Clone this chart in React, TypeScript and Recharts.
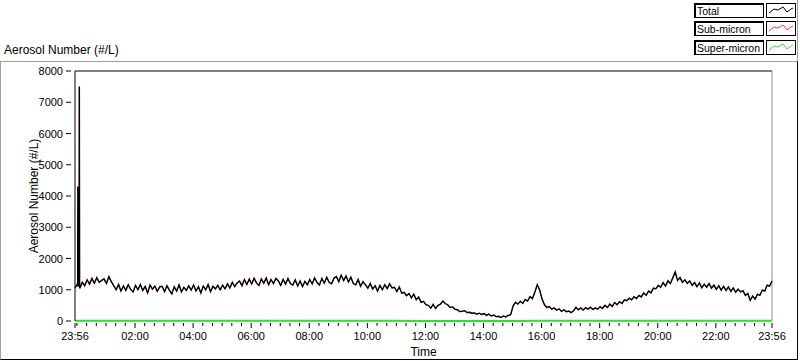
import React from "react";
import { LineChart, Line, XAxis, YAxis, ReferenceLine } from "recharts";

// minutes since 23:56, one value every 5 min, one row per hour
const TOTAL_BY_HOUR: number[][] = [
  [1060, 1190, 1050, 1240, 1130, 1320, 1180, 1360, 1210, 1390, 1240, 1300],
  [1350, 1200, 1420, 1260, 1130, 1000, 1170, 960, 1120, 980, 1160, 1010],
  [930, 1140, 1000, 1170, 980, 1110, 900, 1150, 1020, 1120, 950, 1090],
  [1110, 940, 1130, 990, 870, 1100, 960, 1160, 930, 1080, 980, 1120],
  [990, 1150, 960, 1100, 900, 1120, 1000, 1170, 940, 1110, 1030, 1140],
  [1000, 1150, 1030, 1190, 1060, 1240, 1100, 1220, 1280, 1130, 1330, 1170],
  [1340, 1190, 1370, 1220, 1140, 1350, 1210, 1380, 1160, 1330, 1200, 1360],
  [1290, 1140, 1330, 1180, 1360, 1200, 1150, 1320, 1120, 1280, 1100, 1270],
  [1160, 1330, 1190, 1380, 1230, 1150, 1360, 1210, 1400, 1240, 1190, 1370],
  [1420, 1260, 1470, 1290, 1440, 1250, 1400, 1200, 1160, 1330, 1110, 1260],
  [1160, 1050, 1200, 1020, 1130, 960, 1140, 1000, 1160, 1040, 1190, 1060],
  [1080, 940, 1090, 890, 920, 810, 880, 740, 860, 680, 770, 600],
  [630, 520, 500, 410, 530, 400, 500, 540, 640, 560, 520, 430],
  [450, 380, 360, 300, 310, 330, 270, 280, 250, 260, 220, 250],
  [210, 240, 180, 220, 160, 190, 140, 150, 110, 160, 130, 180],
  [200, 480, 600, 540, 630, 560, 690, 640, 780, 720, 920, 1160],
  [990, 700, 520, 430, 460, 380, 420, 350, 390, 310, 360, 300],
  [320, 270, 330, 440, 360, 420, 350, 430, 380, 440, 370, 420],
  [380, 460, 400, 500, 430, 540, 470, 590, 520, 620, 560, 680],
  [650, 730, 680, 780, 720, 820, 770, 900, 820, 960, 900, 1050],
  [1030, 1140, 1080, 1230, 1120, 1290, 1200, 1380, 1570, 1300, 1390, 1240],
  [1320, 1200, 1280, 1140, 1230, 1100, 1220, 1060, 1180, 1080, 1200, 1050],
  [1150, 1010, 1130, 990, 1110, 980, 1090, 950, 1060, 920, 1020, 930],
  [970, 820, 880, 660, 800, 700, 860, 820, 990, 960, 1150, 1120],
];
const TOTAL_END = 1280;
const STEP_MIN = 5;

// short spike just after midnight
const SPIKE_T = [5.5, 6, 6.5, 8.5, 9, 9.5];
const SPIKE_V = [1150, 4300, 1100, 1200, 7500, 1180];

// super-micron, one value per hour
const SUPER_BY_HOUR = [
  8, 7, 6, 6, 7, 8, 8, 7, 7, 6, 6, 5, 4, 4, 3, 4, 5, 5, 5, 6, 7, 7, 7, 6, 6,
];

const MAJOR_TICKS = [0, 124, 244, 364, 484, 604, 724, 844, 964, 1084, 1204, 1324, 1440];
const MAJOR_LABELS = [
  "23:56", "02:00", "04:00", "06:00", "08:00", "10:00", "12:00",
  "14:00", "16:00", "18:00", "20:00", "22:00", "23:56",
];
const Y_TICKS = [0, 1000, 2000, 3000, 4000, 5000, 6000, 7000, 8000];

const FONT = "'Liberation Sans', Arial, sans-serif";

const minorTicks: number[] = [];
for (let t = 4; t < 1440; t += 20) minorTicks.push(t);
const ALL_TICKS = Array.from(new Set([...MAJOR_TICKS, ...minorTicks])).sort((a, b) => a - b);

const totalData: { t: number; v: number }[] = [];
TOTAL_BY_HOUR.forEach((row, h) =>
  row.forEach((v, i) => totalData.push({ t: h * 60 + i * STEP_MIN, v }))
);
totalData.push({ t: 1440, v: TOTAL_END });
SPIKE_T.forEach((t, i) => totalData.push({ t, v: SPIKE_V[i] }));
totalData.sort((a, b) => a.t - b.t);

const superData = SUPER_BY_HOUR.map((v, h) => ({ t: h * 60, v }));
const subData = totalData.map((d) => ({
  t: d.t,
  v: d.v - SUPER_BY_HOUR[Math.min(24, Math.floor(d.t / 60))],
}));

function XTick(props: any) {
  const { x, y, payload } = props;
  const idx = MAJOR_TICKS.indexOf(payload.value);
  const major = idx >= 0;
  return (
    <g>
      <line x1={x} x2={x} y1={y + 2} y2={y + (major ? 7 : 5)} stroke="#000" />
      {major && (
        <text x={x} y={y + 19} textAnchor="middle" fontSize={11} fontFamily={FONT} fill="#000">
          {MAJOR_LABELS[idx]}
        </text>
      )}
    </g>
  );
}

function YTick(props: any) {
  const { x, y, payload } = props;
  return (
    <g>
      <line x1={x - 9} x2={x - 4} y1={y} y2={y} stroke="#000" />
      <text x={x - 12} y={y + 4} textAnchor="end" fontSize={11} fontFamily={FONT} fill="#000">
        {payload.value}
      </text>
    </g>
  );
}

const LEGEND = [
  { name: "Total", color: "#000000", top: 3 },
  { name: "Sub-micron", color: "#ff3b3b", top: 21 },
  { name: "Super-micron", color: "#2ee02e", top: 40 },
];

function LegendBoxes() {
  return (
    <>
      {LEGEND.map((l) => (
        <React.Fragment key={l.name}>
          <div
            style={{
              position: "absolute",
              left: 694,
              top: l.top,
              width: 66,
              height: 12,
              border: "1px solid #000",
              borderLeftWidth: 2,
              borderTopWidth: 2,
              background: "#fff",
              fontSize: 10.5,
              lineHeight: "12px",
              paddingLeft: 1,
              fontFamily: FONT,
              whiteSpace: "nowrap",
            }}
          >
            {l.name}
          </div>
          <svg width={30} height={15} style={{ position: "absolute", left: 766, top: l.top }}>
            <rect x={0.5} y={0.5} width={29} height={14} fill="#fff" stroke="#000" />
            <polyline
              points="3,10 8,6 12,7 17,4 21,9 25,6 27,5"
              fill="none"
              stroke={l.color}
              strokeWidth={1}
            />
          </svg>
        </React.Fragment>
      ))}
    </>
  );
}

export default function App() {
  return (
    <div
      style={{
        position: "absolute",
        left: 0,
        top: 0,
        width: 800,
        height: 361,
        background: "#fff",
        fontFamily: FONT,
        overflow: "hidden",
      }}
    >
      <div
        style={{
          position: "absolute",
          left: 0,
          top: 61,
          width: 796,
          height: 297,
          borderTop: "1px solid #a0a0a0",
          borderLeft: "1px solid #a0a0a0",
          borderRight: "1px solid #000",
          borderBottom: "1px solid #000",
        }}
      />
      <div
        style={{ position: "absolute", left: 797, top: 0, width: 1, height: 61, background: "#a0a0a0" }}
      />
      <div style={{ position: "absolute", left: 4, top: 43, fontSize: 12, lineHeight: "14px" }}>
        Aerosol Number (#/L)
      </div>
      <LegendBoxes />
      <div style={{ position: "absolute", left: 0, top: 0 }}>
        <LineChart width={800} height={361} margin={{ top: 71, right: 28, left: 0, bottom: 0 }}>
          <XAxis
            dataKey="t"
            type="number"
            domain={[0, 1440]}
            ticks={ALL_TICKS}
            interval={0}
            tick={(p: any) => <XTick {...p} />}
            tickLine={false}
            tickSize={0}
            tickMargin={0}
            height={40}
            axisLine={false}
            label={{
              value: "Time",
              position: "insideBottom",
              offset: 5,
              fontSize: 12,
              fontFamily: FONT,
              fill: "#000",
            }}
          />
          <YAxis
            type="number"
            domain={[0, 8000]}
            ticks={Y_TICKS}
            interval={0}
            width={75}
            tick={(p: any) => <YTick {...p} />}
            tickLine={false}
            tickSize={0}
            tickMargin={0}
            axisLine={{ stroke: "#000" }}
            label={{
              value: "Aerosol Number (#/L)",
              angle: -90,
              position: "center",
              dx: -4,
              fontSize: 12,
              fontFamily: FONT,
              fill: "#000",
            }}
          />
          <ReferenceLine y={8000} stroke="#000" />
          <ReferenceLine x={1440} stroke="#909090" />
          <Line
            data={superData}
            dataKey="v"
            name="Super-micron"
            stroke="#2ee02e"
            strokeWidth={2}
            dot={false}
            isAnimationActive={false}
          />
          <Line
            data={subData}
            dataKey="v"
            name="Sub-micron"
            stroke="#ff3b3b"
            strokeWidth={1}
            dot={false}
            isAnimationActive={false}
          />
          <Line
            data={totalData}
            dataKey="v"
            name="Total"
            stroke="#000"
            strokeWidth={1.4}
            dot={false}
            isAnimationActive={false}
          />
        </LineChart>
      </div>
    </div>
  );
}
